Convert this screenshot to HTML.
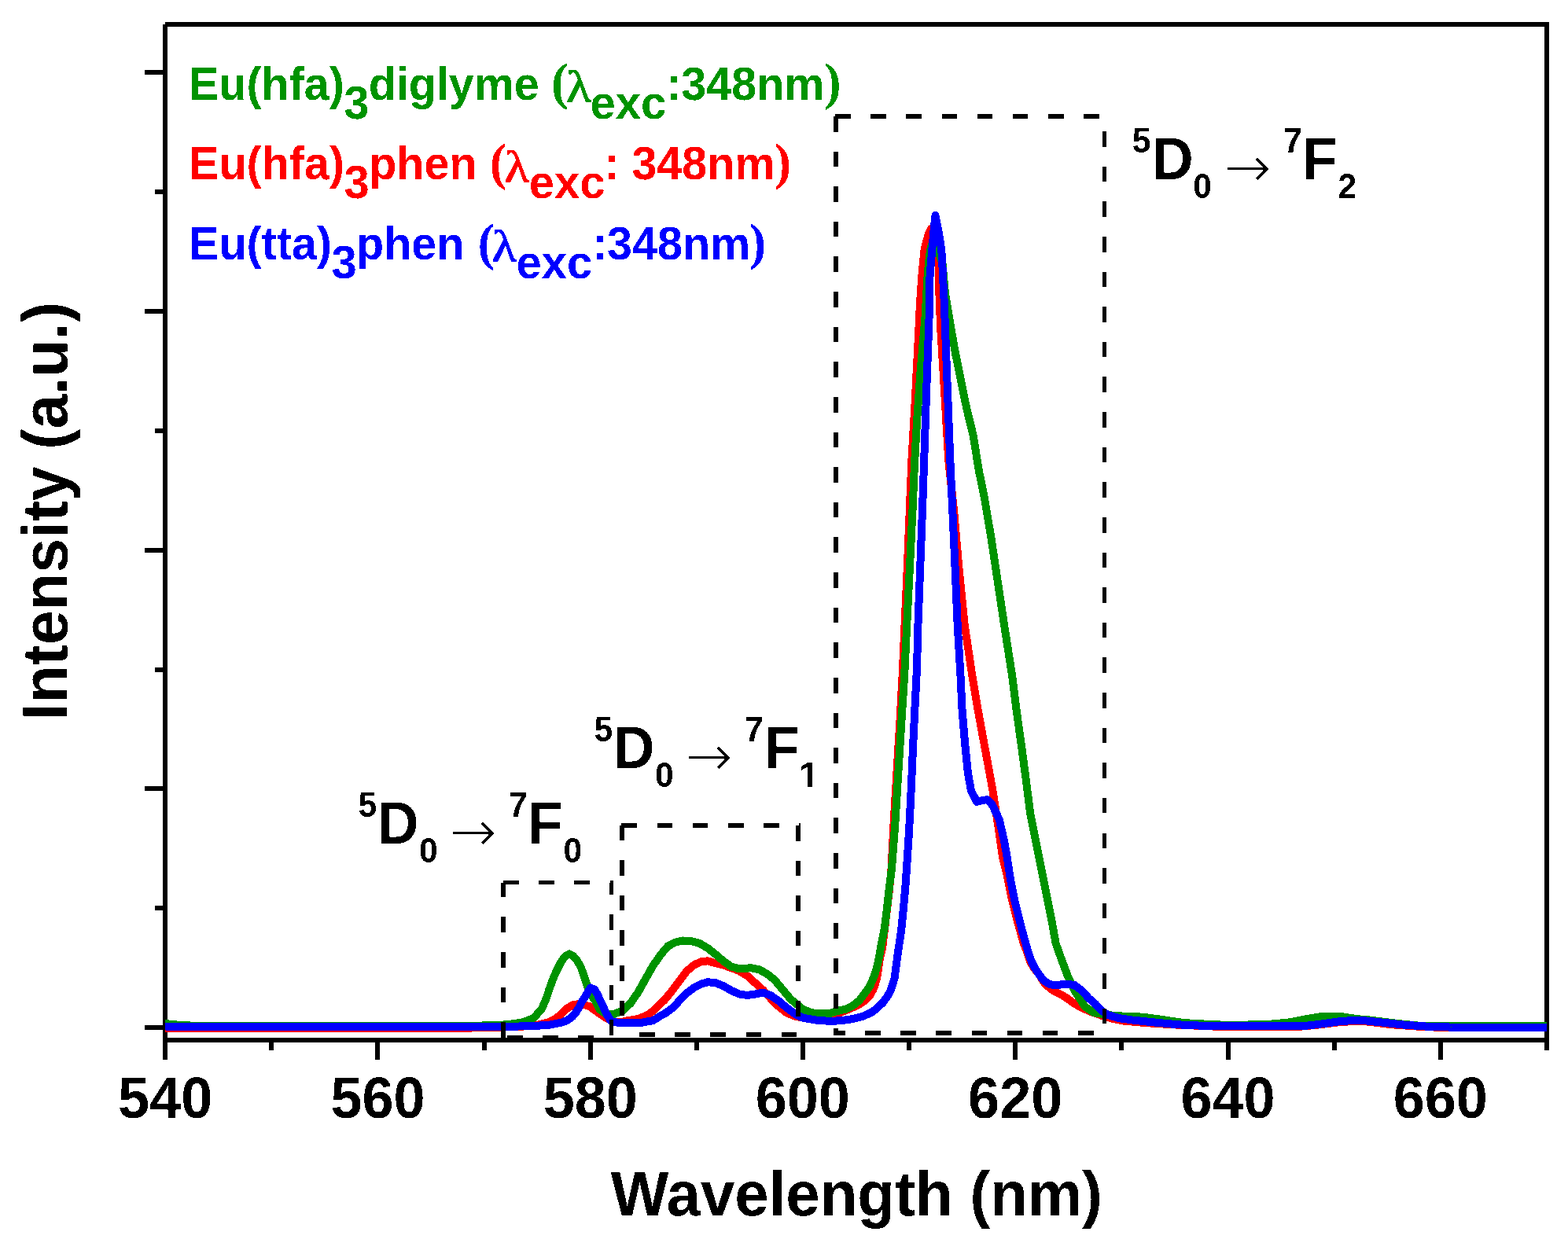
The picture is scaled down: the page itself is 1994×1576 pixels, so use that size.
<!DOCTYPE html><html><head><meta charset="utf-8"><title>Eu complexes emission spectra</title>
<style>html,body{margin:0;padding:0;background:#fff;overflow:hidden}svg{display:block}.s{font-family:"Liberation Sans",Arial,sans-serif;font-weight:bold}.g{font-family:"Liberation Serif","Times New Roman",serif;font-weight:normal}.gb{font-family:"Liberation Serif","Times New Roman",serif;font-weight:bold}.d{font-family:"DejaVu Serif",serif;font-weight:normal}.a{font-family:"DejaVu Sans",sans-serif;font-weight:200}</style></head><body>
<svg width="1994" height="1576" viewBox="0 0 1994 1576" shape-rendering="crispEdges">
<rect width="1994" height="1576" fill="#fff"/>
<filter id="cr" x="-5%" y="-5%" width="110%" height="110%" color-interpolation-filters="sRGB"><feComponentTransfer><feFuncA type="discrete" tableValues="0 1"/></feComponentTransfer></filter>
<g stroke="#000" stroke-width="6" fill="none">
<path d="M210 31V1348M210 31H1970M1967 28V1336M207 1323H1970"/>
<path d="M184 92.0H207M197 243.9H207M184 395.8H207M197 547.7H207M184 699.6H207M197 851.5H207M184 1003.4H207M197 1155.3H207M184 1307.2H207M345.1 1326V1336M480.3 1326V1348M615.5 1326V1336M750.6 1326V1348M885.8 1326V1336M1020.9 1326V1348M1156.1 1326V1336M1291.2 1326V1348M1426.4 1326V1336M1561.5 1326V1348M1696.7 1326V1336M1831.8 1326V1348M1967.0 1326V1336"/>
</g>
<g fill="none" stroke-width="10" stroke-linejoin="round" stroke-linecap="butt">
<path stroke="#ff0000" d="M210.0 1307.5L600.0 1307.5L660.0 1306.0L682.5 1304.0L697.3 1300.5L707.2 1295.5L715.5 1288.2L722.0 1282.0L728.7 1278.3L735.3 1277.1L740.0 1277.3L749.5 1280.0L759.0 1286.8L768.6 1293.4L773.3 1296.3L780.0 1299.5L790.0 1300.0L797.0 1298.5L811.4 1296.0L822.8 1291.5L830.4 1286.0L844.7 1272.3L854.2 1260.9L863.7 1248.0L873.3 1235.2L882.8 1227.3L892.3 1223.0L900.1 1222.4L910.1 1225.2L920.1 1227.7L930.2 1231.2L940.2 1235.2L950.2 1241.2L960.2 1250.2L970.3 1259.3L980.3 1270.3L990.3 1280.3L1000.4 1288.4L1010.4 1292.4L1020.4 1294.4L1030.5 1296.4L1040.5 1297.9L1055.0 1296.0L1068.8 1288.0L1084.3 1281.5L1092.8 1277.5L1100.3 1272.5L1106.0 1266.5L1110.0 1259.5L1112.9 1252.0L1115.4 1242.8L1117.1 1231.4L1118.7 1220.0L1122.2 1205.0L1126.4 1170.0L1130.6 1135.0L1133.4 1107.0L1136.5 1048.0L1140.5 982.0L1144.5 916.0L1147.6 860.0L1153.8 722.2L1159.4 585.0L1163.7 511.2L1166.9 448.4L1170.0 385.6L1172.8 345.0L1175.6 317.0L1180.7 298.0L1184.0 291.0L1190.0 305.0L1194.0 325.0L1194.4 372.8L1196.1 415.7L1198.7 458.5L1201.3 501.3L1203.8 544.1L1206.4 587.0L1213.2 651.1L1219.4 722.2L1226.5 793.3L1236.4 860.0L1243.8 903.8L1251.8 947.6L1257.2 976.8L1262.5 1006.0L1269.2 1049.8L1275.0 1090.0L1280.1 1110.5L1286.2 1140.9L1293.8 1171.4L1301.4 1198.8L1305.0 1208.0L1310.0 1223.0L1314.5 1230.7L1321.0 1239.1L1329.3 1252.0L1339.1 1259.9L1348.9 1264.8L1358.0 1270.4L1366.3 1276.7L1376.8 1282.3L1387.3 1287.1L1401.2 1291.8L1407.5 1293.6L1415.0 1295.8L1428.6 1298.6L1460.0 1301.3L1500.0 1303.8L1545.0 1305.6L1655.0 1305.6L1674.0 1303.8L1686.0 1302.3L1703.0 1300.2L1722.0 1299.0L1737.0 1299.3L1744.7 1300.2L1770.3 1303.3L1800.4 1305.5L1827.4 1306.7L1967.0 1307.0"/>
<path stroke="#009300" d="M210.0 1302.0L225.0 1303.5L250.0 1305.0L370.0 1304.5L450.0 1305.0L600.0 1305.0L640.0 1303.5L653.0 1302.2L665.0 1300.2L672.6 1297.5L679.2 1294.4L689.1 1282.9L694.8 1269.6L699.0 1256.8L703.1 1245.6L707.2 1236.2L712.2 1226.0L717.9 1217.2L723.7 1213.4L728.7 1215.7L733.6 1221.3L738.6 1230.0L742.7 1241.5L746.8 1253.9L752.0 1266.0L758.1 1274.7L762.8 1284.0L770.0 1289.5L780.0 1290.4L792.4 1285.2L801.9 1276.1L811.4 1262.3L820.9 1245.2L830.4 1228.5L839.9 1214.7L849.5 1203.5L859.0 1198.6L868.5 1196.5L878.0 1196.8L890.0 1200.1L900.1 1206.1L910.1 1214.1L920.1 1222.7L930.2 1229.7L940.2 1232.4L955.2 1231.2L965.3 1233.2L975.3 1238.7L985.3 1246.7L995.3 1258.8L1005.4 1270.8L1020.4 1283.3L1030.5 1287.9L1040.5 1289.4L1055.5 1288.9L1065.6 1285.8L1075.7 1283.7L1084.3 1279.3L1092.8 1272.5L1100.0 1263.0L1106.3 1254.3L1111.2 1242.8L1114.9 1231.4L1117.5 1220.0L1121.0 1200.0L1125.0 1180.0L1128.0 1155.0L1131.0 1128.0L1134.0 1105.0L1138.3 1048.0L1142.4 982.0L1146.5 916.0L1150.1 860.0L1153.3 793.3L1156.9 722.2L1160.4 651.1L1163.0 589.8L1166.3 532.0L1170.8 469.3L1176.3 406.5L1179.8 347.5L1181.7 328.0L1183.9 314.0L1188.0 305.0L1191.5 314.0L1198.5 335.0L1201.9 372.8L1206.2 398.5L1210.5 424.2L1215.1 449.9L1220.3 475.6L1225.4 501.3L1231.0 527.0L1237.4 552.7L1245.1 600.0L1251.9 633.3L1260.8 686.6L1268.8 739.9L1276.8 793.3L1287.2 860.0L1292.7 903.8L1298.8 947.6L1304.7 991.4L1310.2 1035.2L1319.2 1080.0L1325.3 1110.5L1331.4 1140.9L1337.5 1171.4L1342.6 1200.0L1350.5 1222.0L1358.0 1241.9L1367.5 1262.0L1373.0 1269.8L1379.5 1280.3L1391.0 1288.0L1407.6 1291.0L1430.1 1292.8L1452.7 1293.6L1475.2 1296.6L1505.3 1301.1L1545.9 1303.3L1568.5 1304.1L1616.6 1302.6L1640.7 1300.3L1663.3 1295.8L1680.0 1293.1L1705.6 1293.1L1725.1 1296.1L1740.2 1297.3L1770.3 1301.1L1800.4 1304.4L1819.9 1305.3L1967.0 1305.3"/>
<path stroke="#0000ff" d="M210.0 1305.5L230.0 1306.0L250.0 1306.4L600.0 1306.4L640.0 1306.0L680.0 1305.0L700.0 1303.5L715.0 1300.5L722.0 1297.6L728.0 1293.1L733.0 1286.9L737.0 1280.3L740.0 1274.0L745.0 1266.4L749.0 1259.5L751.0 1256.5L756.0 1258.5L760.0 1265.0L762.0 1270.0L766.0 1278.0L770.5 1288.0L775.0 1296.0L778.0 1299.2L782.0 1300.4L797.0 1301.1L816.0 1300.7L830.4 1298.2L840.0 1292.0L844.7 1289.7L849.5 1286.5L854.2 1282.8L859.0 1278.9L863.7 1272.8L868.5 1267.6L873.3 1263.3L882.8 1256.1L892.3 1251.4L900.1 1249.2L910.1 1250.2L920.1 1254.3L930.2 1260.0L940.2 1264.5L950.2 1266.0L960.2 1264.5L970.3 1262.5L980.3 1266.3L990.3 1273.3L1000.4 1281.8L1010.4 1289.4L1020.4 1294.4L1030.5 1296.4L1040.5 1297.9L1055.5 1298.9L1070.0 1298.2L1084.0 1296.1L1097.9 1292.6L1109.9 1286.9L1116.0 1281.5L1122.3 1275.8L1127.0 1269.5L1131.6 1262.2L1135.0 1253.0L1137.6 1244.0L1140.4 1223.0L1141.9 1211.7L1146.1 1183.7L1148.9 1155.8L1151.4 1127.9L1153.3 1100.0L1156.1 1056.3L1158.6 1006.8L1161.1 949.0L1163.5 899.5L1166.0 850.0L1167.5 793.3L1170.2 722.2L1172.9 651.1L1175.4 580.0L1178.4 490.2L1181.5 406.5L1182.3 355.0L1183.6 338.0L1185.5 315.0L1187.4 294.0L1189.5 274.0L1190.6 280.0L1194.5 300.0L1197.3 318.0L1198.3 335.0L1198.9 349.0L1200.8 385.6L1203.9 469.3L1208.3 585.0L1211.4 651.1L1214.6 722.2L1217.6 793.3L1221.5 860.0L1223.6 903.8L1227.3 947.6L1231.0 984.1L1235.0 1006.0L1242.3 1019.9L1249.0 1018.0L1255.5 1017.2L1262.0 1024.0L1270.8 1042.5L1277.4 1071.7L1280.6 1090.0L1284.9 1118.1L1291.0 1148.5L1298.6 1179.0L1307.0 1209.5L1310.8 1220.9L1315.2 1230.0L1321.0 1239.1L1327.0 1247.0L1333.5 1251.4L1340.5 1253.4L1347.5 1252.6L1354.5 1251.6L1366.3 1252.9L1376.0 1260.3L1384.2 1269.4L1392.8 1276.8L1401.2 1285.9L1409.0 1291.0L1422.8 1295.1L1440.0 1297.5L1466.2 1300.3L1497.8 1303.3L1512.8 1304.1L1545.9 1305.3L1655.8 1305.3L1673.8 1303.3L1685.8 1301.8L1702.6 1299.4L1722.1 1297.8L1737.2 1298.4L1755.2 1300.3L1785.3 1303.6L1815.4 1305.7L1845.5 1306.6L1967.0 1306.8"/>
</g>
<g fill="none" stroke="#000" stroke-width="5.5">
<path d="M637.2 1122.6H780.2" stroke-dasharray="19.70 25.45" stroke-dashoffset="42.20"/>
<path d="M777.5 1122.6V1319.5" stroke-dasharray="19.60 25.02" stroke-dashoffset="3.90"/>
<path d="M637.2 1319.5H780.2" stroke-dasharray="19.70 25.45" stroke-dashoffset="37.30"/>
<path d="M640.0 1122.6V1319.5" stroke-dasharray="19.60 25.02" stroke-dashoffset="0.80"/>
<path d="M788.2 1050.2H1017.8" stroke-dasharray="19.70 25.45" stroke-dashoffset="43.00"/>
<path d="M1015.0 1050.2V1316.0" stroke-dasharray="19.60 25.02" stroke-dashoffset="0.20"/>
<path d="M788.2 1316.0H1017.8" stroke-dasharray="19.70 25.45" stroke-dashoffset="20.20"/>
<path d="M791.0 1050.2V1316.0" stroke-dasharray="19.60 25.02" stroke-dashoffset="0.60"/>
<path d="M1060.2 147.9H1407.3" stroke-dasharray="19.70 25.45" stroke-dashoffset="43.30"/>
<path d="M1404.6 147.9V1314.2" stroke-dasharray="19.60 25.02" stroke-dashoffset="25.42"/>
<path d="M1060.2 1314.2H1407.3" stroke-dasharray="19.70 25.45" stroke-dashoffset="5.30"/>
<path d="M1062.9 147.9V1314.2" stroke-dasharray="19.60 25.02" stroke-dashoffset="44.52"/>
</g>
<g filter="url(#cr)">
<g fill="#000">
<text class="s" font-size="72.0" transform="translate(150.10 1421.60) scale(1.000 1.018)">540</text>
<text class="s" font-size="72.0" transform="translate(420.40 1421.60) scale(1.000 1.018)">560</text>
<text class="s" font-size="72.0" transform="translate(690.70 1421.60) scale(1.000 1.018)">580</text>
<text class="s" font-size="72.0" transform="translate(960.79 1421.60) scale(1.000 1.018)">600</text>
<text class="s" font-size="72.0" transform="translate(1231.09 1421.60) scale(1.000 1.018)">620</text>
<text class="s" font-size="72.0" transform="translate(1501.39 1421.60) scale(1.000 1.018)">640</text>
<text class="s" font-size="72.0" transform="translate(1771.69 1421.60) scale(1.000 1.018)">660</text>
</g>
<text class="s" font-size="78.0" transform="translate(776.82 1545.80) scale(1.000 1.030)" fill="#000">Wavelength (nm)</text>
<text class="s" font-size="78.5" transform="translate(85 916.15) rotate(-90) scale(1 1.035)">Intensity (a.u.)</text>
<text class="s" font-size="57.5" transform="translate(239.95 126.80) scale(1.000 1.031)" fill="#009300">Eu(hfa)</text>
<text class="s" font-size="58.0" transform="translate(437.37 150.90) scale(1.000 1.031)" fill="#009300">3</text>
<text class="s" font-size="57.5" transform="translate(468.64 126.80) scale(1.000 1.031)" fill="#009300">diglyme</text>
<text class="gb" font-size="65.0" transform="translate(700.94 126.30)" fill="#009300">(</text>
<text class="g" font-size="57.5" transform="translate(720.29 129.10) scale(1.130 1.000)" fill="#009300" stroke="#009300" stroke-width="1.1">λ</text>
<text class="s" font-size="58.0" transform="translate(750.43 150.90) scale(1.000 1.031)" fill="#009300">exc</text>
<text class="s" font-size="57.5" transform="translate(847.17 126.80) scale(1.000 1.031)" fill="#009300">:348nm</text>
<text class="gb" font-size="65.0" transform="translate(1047.91 126.30)" fill="#009300">)</text>
<text class="s" font-size="57.5" transform="translate(240.15 228.20) scale(1.000 1.031)" fill="#ff0000">Eu(hfa)</text>
<text class="s" font-size="58.0" transform="translate(437.47 252.30) scale(1.000 1.031)" fill="#ff0000">3</text>
<text class="s" font-size="57.5" transform="translate(469.21 228.20) scale(1.000 1.031)" fill="#ff0000">phen</text>
<text class="gb" font-size="65.0" transform="translate(622.84 227.70)" fill="#ff0000">(</text>
<text class="g" font-size="57.5" transform="translate(641.49 230.50) scale(1.130 1.000)" fill="#ff0000" stroke="#ff0000" stroke-width="1.1">λ</text>
<text class="s" font-size="58.0" transform="translate(672.83 252.30) scale(1.000 1.031)" fill="#ff0000">exc</text>
<text class="s" font-size="57.5" transform="translate(768.27 228.20) scale(1.000 1.031)" fill="#ff0000">: 348nm</text>
<text class="gb" font-size="65.0" transform="translate(984.51 227.70)" fill="#ff0000">)</text>
<text class="s" font-size="57.5" transform="translate(240.15 330.10) scale(1.000 1.031)" fill="#0000ff">Eu(tta)</text>
<text class="s" font-size="58.0" transform="translate(421.57 354.20) scale(1.000 1.031)" fill="#0000ff">3</text>
<text class="s" font-size="57.5" transform="translate(453.11 330.10) scale(1.000 1.031)" fill="#0000ff">phen</text>
<text class="gb" font-size="65.0" transform="translate(607.44 329.60)" fill="#0000ff">(</text>
<text class="g" font-size="57.5" transform="translate(625.49 332.40) scale(1.130 1.000)" fill="#0000ff" stroke="#0000ff" stroke-width="1.1">λ</text>
<text class="s" font-size="58.0" transform="translate(656.53 354.20) scale(1.000 1.031)" fill="#0000ff">exc</text>
<text class="s" font-size="57.5" transform="translate(752.97 330.10) scale(1.000 1.031)" fill="#0000ff">:348nm</text>
<text class="gb" font-size="65.0" transform="translate(952.51 329.60)" fill="#0000ff">)</text>
<text class="s" font-size="42.6" transform="translate(1439.69 193.60) scale(1.000 1.040)" fill="#000">5</text>
<text class="s" font-size="73.0" transform="translate(1464.92 228.10) scale(1.000 1.030)" fill="#000">D</text>
<text class="s" font-size="42.6" transform="translate(1517.22 251.60) scale(1.000 1.040)" fill="#000">0</text>
<text class="a" font-size="70.8" transform="translate(1556.96 236.59)" fill="#000">→</text>
<text class="s" font-size="42.6" transform="translate(1632.17 193.60) scale(1.000 1.040)" fill="#000">7</text>
<text class="s" font-size="73.0" transform="translate(1655.82 228.10) scale(1.000 1.030)" fill="#000">F</text>
<text class="s" font-size="42.6" transform="translate(1701.52 251.60) scale(1.000 1.040)" fill="#000">2</text>
<text class="s" font-size="42.6" transform="translate(755.39 942.60) scale(1.000 1.040)" fill="#000">5</text>
<text class="s" font-size="73.0" transform="translate(779.82 977.10) scale(1.000 1.030)" fill="#000">D</text>
<text class="s" font-size="42.6" transform="translate(832.92 1000.60) scale(1.000 1.040)" fill="#000">0</text>
<text class="a" font-size="70.8" transform="translate(871.96 985.59)" fill="#000">→</text>
<text class="s" font-size="42.6" transform="translate(947.07 942.60) scale(1.000 1.040)" fill="#000">7</text>
<text class="s" font-size="73.0" transform="translate(972.12 977.10) scale(1.000 1.030)" fill="#000">F</text>
<clipPath id="c1"><rect x="1005.6" y="940.6" width="60" height="55.5"/><rect x="1026.69" y="940.6" width="6.55" height="60.0"/></clipPath>
<g clip-path="url(#c1)"><text class="s" font-size="42.6" transform="translate(1015.56 1000.60) scale(1.120 1.040)" fill="#000">1</text></g>
<text class="s" font-size="42.6" transform="translate(455.39 1038.70) scale(1.000 1.040)" fill="#000">5</text>
<text class="s" font-size="73.0" transform="translate(479.82 1073.20) scale(1.000 1.030)" fill="#000">D</text>
<text class="s" font-size="42.6" transform="translate(532.92 1096.70) scale(1.000 1.040)" fill="#000">0</text>
<text class="a" font-size="70.8" transform="translate(571.96 1081.69)" fill="#000">→</text>
<text class="s" font-size="42.6" transform="translate(647.07 1038.70) scale(1.000 1.040)" fill="#000">7</text>
<text class="s" font-size="73.0" transform="translate(670.92 1073.20) scale(1.000 1.030)" fill="#000">F</text>
<text class="s" font-size="42.6" transform="translate(716.62 1096.70) scale(1.000 1.040)" fill="#000">0</text>
</g>
</svg></body></html>
